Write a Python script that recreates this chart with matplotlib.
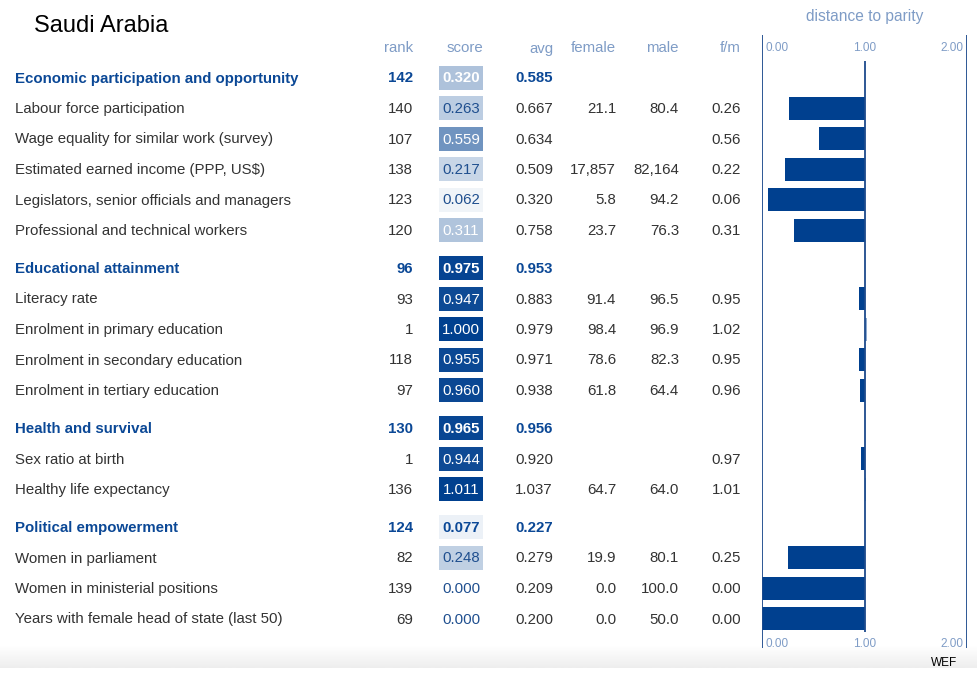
import matplotlib
matplotlib.use("Agg")
import matplotlib.pyplot as plt
from matplotlib.patches import Rectangle
from matplotlib.colors import LinearSegmentedColormap
import numpy as np

plt.rcParams['font.family'] = ['Liberation Sans', 'DejaVu Sans']

# --- dados ---
country = "Saudi Arabia"
indicators = [
    "Economic participation and opportunity",
    "Labour force participation",
    "Wage equality for similar work (survey)",
    "Estimated earned income (PPP, US$)",
    "Legislators, senior officials and managers",
    "Professional and technical workers",
    "Educational attainment",
    "Literacy rate",
    "Enrolment in primary education",
    "Enrolment in secondary education",
    "Enrolment in tertiary education",
    "Health and survival",
    "Sex ratio at birth",
    "Healthy life expectancy",
    "Political empowerment",
    "Women in parliament",
    "Women in ministerial positions",
    "Years with female head of state (last 50)",
]
is_header = [True, False, False, False, False, False,
             True, False, False, False, False,
             True, False, False,
             True, False, False, False]
ranks = [142, 140, 107, 138, 123, 120, 96, 93, 1, 118, 97, 130, 1, 136, 124, 82, 139, 69]
scores = [0.320, 0.263, 0.559, 0.217, 0.062, 0.311,
          0.975, 0.947, 1.000, 0.955, 0.960,
          0.965, 0.944, 1.011,
          0.077, 0.248, 0.000, 0.000]
avgs = [0.585, 0.667, 0.634, 0.509, 0.320, 0.758,
        0.953, 0.883, 0.979, 0.971, 0.938,
        0.956, 0.920, 1.037,
        0.227, 0.279, 0.209, 0.200]
female = [None, 21.1, None, 17857, 5.8, 23.7,
          None, 91.4, 98.4, 78.6, 61.8,
          None, None, 64.7,
          None, 19.9, 0.0, 0.0]
male = [None, 80.4, None, 82164, 94.2, 76.3,
        None, 96.5, 96.9, 82.3, 64.4,
        None, None, 64.0,
        None, 80.1, 100.0, 50.0]
fm_ratio = [None, 0.26, 0.56, 0.22, 0.06, 0.31,
            None, 0.95, 1.02, 0.95, 0.96,
            None, 0.97, 1.01,
            None, 0.25, 0.00, 0.00]
col_headers = ["rank", "score", "avg", "female", "male", "f/m"]
parity_ticks = [0.0, 1.0, 2.0]

# --- cores ---
NAVY = "#00408f"
HEAD_BLUE = "#0b4896"
TEXT = "#333333"
LIGHT = "#7f9cc6"
BAR_OVER = "#8ca8cf"
cmap = LinearSegmentedColormap.from_list("wef", ["#ffffff", NAVY])

FS = 10.8  # tamanho do texto da tabela
DY = 1.0   # pequeno ajuste vertical do texto

W, H = 977, 676
fig = plt.figure(figsize=(W / 100, H / 100), dpi=100)

# eixo da tabela em coordenadas de pixel
ax = fig.add_axes([0, 0, 1, 1])
ax.set_xlim(0, W)
ax.set_ylim(H, 0)
ax.axis("off")

# rodapé cinza
grad = np.linspace(1.0, 0.93, 50).reshape(-1, 1)
ax.imshow(grad, extent=(0, W, 668, 645), cmap="gray", vmin=0, vmax=1, aspect="auto", zorder=0)
ax.text(944, 663, "WEF", fontsize=8.5, color="black", ha="center", va="center")

ax.text(34, 26, country, fontsize=17, color="black", ha="left", va="center")

# posições das linhas
y_rows = []
y = 77.5
for i, h in enumerate(is_header):
    if i > 0:
        y += 38.0 if h else 30.5
    y_rows.append(y)

col_x = [413, 483, 553, 616, 679, 741]
for cx, name in zip(col_x, col_headers):
    ax.text(cx, 47.5 + DY, name, fontsize=FS, color=LIGHT, ha="right", va="center")


def fmt_val(v):
    if v is None:
        return ""
    if v >= 1000:
        return f"{v:,.0f}"
    return f"{v:.1f}"


for i in range(len(indicators)):
    yy = y_rows[i]
    ty = yy + DY
    hd = is_header[i]
    weight = "bold" if hd else "normal"
    main_col = HEAD_BLUE if hd else TEXT
    ax.text(15, ty, indicators[i], fontsize=FS, color=main_col, weight=weight, ha="left", va="center")
    ax.text(413, ty, str(ranks[i]), fontsize=FS, color=main_col, weight=weight, ha="right", va="center")

    # célula do score
    s = scores[i]
    ax.add_patch(Rectangle((439, yy - 12), 44, 24, facecolor=cmap(min(s, 1.0)), edgecolor="none", zorder=1))
    s_col = "white" if s > 0.3 else ("#0b4896" if hd else "#1f4f8f")
    ax.text(461, ty, f"{s:.3f}", fontsize=FS, color=s_col, weight=weight, ha="center", va="center", zorder=2)

    ax.text(553, ty, f"{avgs[i]:.3f}", fontsize=FS, color=main_col, weight=weight, ha="right", va="center")
    ax.text(616, ty, fmt_val(female[i]), fontsize=FS, color=TEXT, ha="right", va="center")
    ax.text(679, ty, fmt_val(male[i]), fontsize=FS, color=TEXT, ha="right", va="center")
    if fm_ratio[i] is not None:
        ax.text(741, ty, f"{fm_ratio[i]:.2f}", fontsize=FS, color=TEXT, ha="right", va="center")

# --- painel distância à paridade ---
x0, x1 = 762, 967
bx = fig.add_axes([x0 / W, 0, (x1 - x0) / W, 1])
bx.set_xlim(0, 2)
bx.set_ylim(H, 0)
bx.axis("off")
bx.patch.set_alpha(0)

bar_y, bar_left, bar_w, bar_c = [], [], [], []
for i, r in enumerate(fm_ratio):
    if r is None:
        continue
    bar_y.append(y_rows[i])
    bar_left.append(min(r, 1.0))
    bar_w.append(abs(1.0 - r))
    bar_c.append(NAVY if r <= 1.0 else BAR_OVER)
bx.barh(bar_y, bar_w, left=bar_left, height=23, color=bar_c, zorder=2)

bx.vlines([parity_ticks[0], parity_ticks[2]], 35, 648, color="#1c4a8c", lw=1.3, zorder=3)
bx.vlines([parity_ticks[1]], 61, 632, color="#1c4a8c", lw=1.3, zorder=3)

for t, ha in zip(parity_ticks, ["left", "center", "right"]):
    dx = 0.035 if ha == "left" else (-0.035 if ha == "right" else 0)
    for ty in (48, 644):
        bx.text(t + dx, ty, f"{t:.2f}", fontsize=8.5, color=LIGHT, ha=ha, va="center")
bx.text(1.0, 16, "distance to parity", fontsize=11.2, color=LIGHT, ha="center", va="center")

fig.savefig("out.png", dpi=100)
